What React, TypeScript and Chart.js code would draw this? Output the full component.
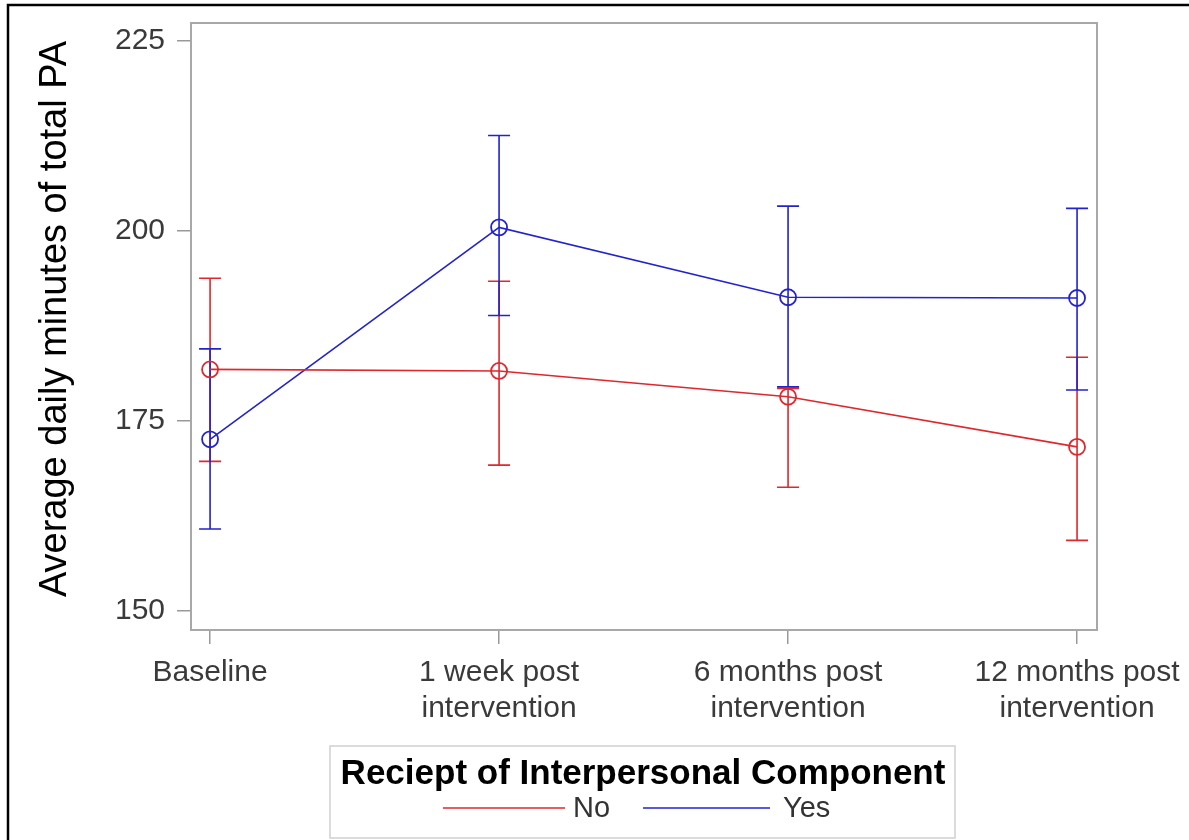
import React, { useEffect, useRef } from "react";
import { Chart, registerables } from "chart.js";

Chart.register(...registerables);

const categories: (string | string[])[] = [
  "Baseline",
  ["1 week post", "intervention"],
  ["6 months post", "intervention"],
  ["12 months post", "intervention"],
];
const yTicks = [150, 175, 200, 225];

const noMean = [181.8, 181.6, 178.2, 171.6];
const noLower = [169.7, 169.2, 166.3, 159.3];
const noUpper = [193.8, 193.4, 179.3, 183.4];

const yesMean = [172.6, 200.5, 191.3, 191.2];
const yesLower = [160.8, 188.9, 179.5, 179.1];
const yesUpper = [184.5, 212.6, 203.3, 203.0];

const RED = "rgb(222,40,45)";
const BLUE = "rgb(35,35,205)";
const FONT = "'Liberation Sans', Arial, Helvetica, sans-serif";

const errorBars = [
  { color: RED, lower: noLower, upper: noUpper },
  { color: BLUE, lower: yesLower, upper: yesUpper },
];

const decorPlugin = {
  id: "decor",
  beforeDatasetsDraw(chart: any) {
    const { ctx, scales } = chart;
    const xs = scales.x;
    const ys = scales.y;
    ctx.save();
    for (const eb of errorBars) {
      ctx.strokeStyle = eb.color;
      ctx.lineWidth = 1.6;
      eb.lower.forEach((lo: number, i: number) => {
        const hi = eb.upper[i];
        const x = xs.getPixelForValue(i);
        const y1 = ys.getPixelForValue(lo);
        const y2 = ys.getPixelForValue(hi);
        ctx.beginPath();
        ctx.moveTo(x, y1);
        ctx.lineTo(x, y2);
        ctx.moveTo(x - 11, y1);
        ctx.lineTo(x + 11, y1);
        ctx.moveTo(x - 11, y2);
        ctx.lineTo(x + 11, y2);
        ctx.stroke();
      });
    }
    ctx.restore();
  },
  afterDraw(chart: any) {
    const { ctx, chartArea } = chart;
    ctx.save();
    // plot frame
    ctx.strokeStyle = "#a8a8a8";
    ctx.lineWidth = 2;
    ctx.strokeRect(
      chartArea.left,
      chartArea.top,
      chartArea.right - chartArea.left,
      chartArea.bottom - chartArea.top
    );
    // outer border
    ctx.strokeStyle = "#000";
    ctx.lineWidth = 2.5;
    ctx.strokeRect(8, 5, 1300, 1000);

    // y title
    ctx.save();
    ctx.translate(56, 319);
    ctx.rotate(-Math.PI / 2);
    ctx.fillStyle = "#000";
    ctx.font = `38px ${FONT}`;
    ctx.textAlign = "center";
    ctx.textBaseline = "middle";
    ctx.fillText("Average daily minutes of total PA", 0, 0);
    ctx.restore();

    // legend
    ctx.strokeStyle = "#cfcfcf";
    ctx.lineWidth = 1.5;
    ctx.strokeRect(330, 746, 625, 92);
    ctx.fillStyle = "#000";
    ctx.font = `bold 35px ${FONT}`;
    ctx.textAlign = "center";
    ctx.textBaseline = "middle";
    ctx.fillText("Reciept of Interpersonal Component", 643, 774);

    ctx.lineWidth = 1.6;
    ctx.strokeStyle = RED;
    ctx.beginPath();
    ctx.moveTo(443, 808);
    ctx.lineTo(565, 808);
    ctx.stroke();
    ctx.strokeStyle = BLUE;
    ctx.beginPath();
    ctx.moveTo(643, 808);
    ctx.lineTo(770, 808);
    ctx.stroke();
    ctx.fillStyle = "#333";
    ctx.font = `29px ${FONT}`;
    ctx.textAlign = "left";
    ctx.fillText("No", 573, 809);
    ctx.fillText("Yes", 783, 809);
    ctx.restore();
  },
};

export default function App() {
  const ref = useRef<HTMLCanvasElement | null>(null);
  useEffect(() => {
    if (!ref.current) return;
    const mk = (vals: number[]) => vals.map((v, i) => ({ x: i, y: v }));
    const chart = new Chart(ref.current, {
      type: "line",
      data: {
        datasets: [
          {
            label: "No",
            data: mk(noMean),
            borderColor: RED,
            backgroundColor: "rgba(0,0,0,0)",
            borderWidth: 1.6,
            pointRadius: 8,
            pointBorderWidth: 1.8,
            pointBorderColor: RED,
            pointBackgroundColor: "rgba(0,0,0,0)",
            tension: 0,
          },
          {
            label: "Yes",
            data: mk(yesMean),
            borderColor: BLUE,
            backgroundColor: "rgba(0,0,0,0)",
            borderWidth: 1.6,
            pointRadius: 8,
            pointBorderWidth: 1.8,
            pointBorderColor: BLUE,
            pointBackgroundColor: "rgba(0,0,0,0)",
            tension: 0,
          },
        ],
      },
      options: {
        responsive: false,
        animation: false,
        layout: { padding: { left: 0, top: 23, right: 92, bottom: 0 } },
        plugins: {
          legend: { display: false },
          tooltip: { enabled: false },
        },
        scales: {
          x: {
            type: "linear",
            min: -0.066,
            max: 3.069,
            afterBuildTicks: (s: any) => {
              s.ticks = categories.map((_, i) => ({ value: i }));
            },
            afterFit: (s: any) => {
              s.height = 210;
              s.paddingLeft = 0;
              s.paddingRight = 0;
            },
            grid: {
              drawOnChartArea: false,
              drawTicks: true,
              tickLength: 14,
              color: "#999",
              lineWidth: 1.5,
            },
            border: { display: false },
            ticks: {
              autoSkip: false,
              maxRotation: 0,
              padding: 11,
              color: "#3a3a3a",
              font: { size: 30, family: FONT, lineHeight: 1.2 },
              callback: (v: any) => categories[Math.round(Number(v))],
            },
          },
          y: {
            type: "linear",
            min: 147.5,
            max: 227.4,
            afterBuildTicks: (s: any) => {
              s.ticks = yTicks.map((v) => ({ value: v }));
            },
            afterFit: (s: any) => {
              s.width = 191;
              s.paddingTop = 0;
              s.paddingBottom = 0;
            },
            grid: {
              drawOnChartArea: false,
              drawTicks: true,
              tickLength: 14,
              color: "#999",
              lineWidth: 1.5,
            },
            border: { display: false },
            ticks: {
              padding: 12,
              color: "#3a3a3a",
              font: { size: 30, family: FONT },
            },
          },
        },
      },
      plugins: [decorPlugin],
    } as any);
    return () => chart.destroy();
  }, []);
  return (
    <div style={{ position: "absolute", left: 0, top: 0, width: 1189, height: 840, background: "#fff" }}>
      <canvas ref={ref} width={1189} height={840} style={{ display: "block" }} />
    </div>
  );
}
